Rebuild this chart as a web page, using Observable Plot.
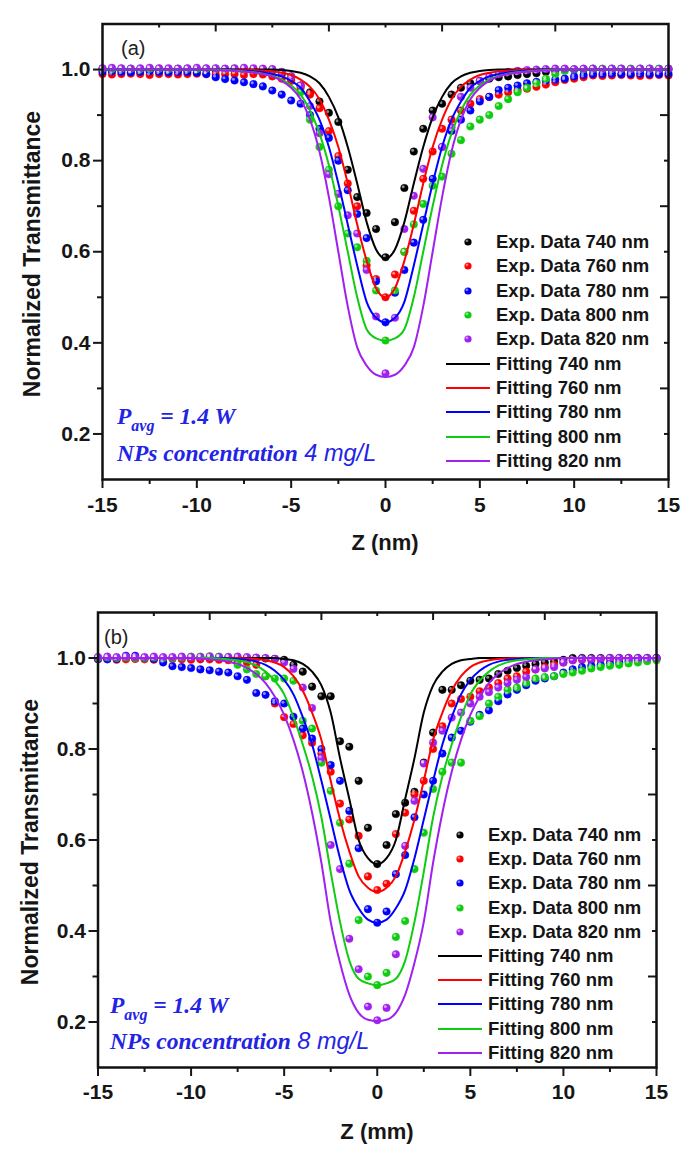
<!DOCTYPE html>
<html><head><meta charset="utf-8">
<script src="https://cdn.jsdelivr.net/npm/d3@7"></script>
<script src="https://cdn.jsdelivr.net/npm/@observablehq/plot@0.6"></script>
<style>
html,body{margin:0;padding:0;background:#fff;}
#root{position:relative;width:693px;height:1155px;overflow:hidden;font-family:"Liberation Sans",Arial,sans-serif;}
.abs{position:absolute;white-space:nowrap;}
.panel{position:absolute;left:0;}
.lg{position:absolute;white-space:nowrap;font-weight:bold;font-size:18.5px;line-height:24px;color:#141414;}
.ann{position:absolute;white-space:nowrap;color:#2323e6;line-height:1;}
.serif{font-family:"Liberation Serif","Times New Roman",serif;font-weight:bold;font-style:italic;}
.sansi{font-family:"Liberation Sans",Arial,sans-serif;font-style:italic;}
</style></head>
<body><div id="root"></div>
<script>
// ---------- data ----------
const zGrid = [-15,-14.5,-14,-13.5,-13,-12.5,-12,-11.5,-11,-10.5,-10,-9.5,-9,-8.5,-8,-7.5,-7,-6.5,-6,-5.5,-5,-4.5,-4,-3.5,-3,-2.5,-2,-1.5,-1,-0.5,0,0.5,1,1.5,2,2.5,3,3.5,4,4.5,5,5.5,6,6.5,7,7.5,8,8.5,9,9.5,10,10.5,11,11.5,12,12.5,13,13.5,14,14.5,15];
const wavelengths = ["740 nm","760 nm","780 nm","800 nm","820 nm"];
const seriesColors = ["#000000","#ff0000","#0000ff","#10cc10","#a020f0"];
const xMajorTicks = [-15,-10,-5,0,5,10,15];
const xMinorTicks = [-12.5,-7.5,-2.5,2.5,7.5,12.5];
const xTopLong = [-9,-3,3,9];
const xTopShort = [-12,-6,0,6,12];
const yMajorTicks = [0.2,0.4,0.6,0.8,1.0];
const yMinorTicks = [0.3,0.5,0.7,0.9];
const yRightLong = [0.3,0.5,0.7,0.9];
const yRightShort = [0.2,0.4,0.6,0.8];

// Panel (a) experimental data
const expA740 = [1,0.999,1,1,0.999,1,1,1,0.999,1,1,1,0.999,1,1,0.999,1,1,0.998,
 0.99,0.98,0.965,0.95,0.93,0.905,0.885,0.78,0.72,0.685,0.65,
 0.588,
 0.665,0.74,0.82,0.87,0.91,0.925,0.945,0.96,0.97,0.975,0.98,0.983,0.985,0.988,0.99,0.992,0.995,0.997,
 1,1,1,1,1,1,1,1,1,1,1,1];
const expA760 = [0.99,0.989,0.99,0.991,0.99,0.988,0.99,0.99,0.989,0.99,0.991,0.99,0.989,0.99,0.99,0.988,0.99,0.989,
 0.985,0.98,0.975,0.96,0.945,0.915,0.865,0.81,0.75,0.70,0.57,0.54,
 0.50,
 0.55,0.60,0.69,0.76,0.82,0.87,0.89,0.91,0.925,0.935,0.94,0.945,0.95,0.955,0.958,0.962,0.967,0.972,0.977,0.98,0.983,
 0.987,0.986,0.987,0.988,0.987,0.986,0.987,0.988,0.987];
const expA780 = [0.995,0.996,0.995,0.994,0.995,0.996,0.995,0.994,0.995,0.995,0.993,0.99,
 0.983,0.979,0.976,0.972,0.968,0.963,0.954,0.945,0.932,0.925,0.90,0.87,0.85,0.80,0.735,0.683,0.63,0.535,
 0.445,
 0.51,0.56,0.62,0.67,0.76,0.83,0.865,0.89,0.91,0.93,0.94,0.955,0.96,0.965,0.97,0.973,0.976,0.978,0.98,0.985,0.988,
 0.99,0.99,0.991,0.99,0.99,0.991,0.99,0.99,0.991];
const expA800 = [1.002,1.001,1.002,1.002,1.001,1.002,1.002,1.001,1.002,1.002,1.001,1.002,1.002,1.001,1.002,1.002,1.001,1.0,1.0,
 0.995,0.985,0.95,0.89,0.83,0.78,0.70,0.64,0.61,0.58,0.515,
 0.405,
 0.515,0.60,0.66,0.705,0.745,0.765,0.815,0.845,0.875,0.89,0.90,0.92,0.935,0.95,0.96,0.97,0.98,0.99,
 0.997,1,1.001,1.002,1.002,1.002,1.002,1.002,1.002,1.002,1.002,1.002];
const expA820 = [1.003,1.004,1.003,1.002,1.003,1.004,1.003,1.003,1.002,1.003,1.004,1.003,1.003,1.002,1.003,1.004,1.003,1.002,1.001,
 0.995,0.985,0.965,0.92,0.86,0.77,0.727,0.68,0.64,0.56,0.458,
 0.333,
 0.455,0.65,0.723,0.782,0.895,0.83,0.873,0.94,0.96,0.975,0.985,0.99,0.995,0.997,
 0.999,1,1.001,1.002,1.002,1.001,1.002,1.002,1.001,1.002,1.002,1.001,1.002,1.002,1.001,1.002];

// Panel (a) fitting curves
const fitA740 = [1,1,1,1,1,1,1,1,1,1,1,1,1,1,1,1,1,1,1,
 0.999,0.997,0.993,0.985,0.97,0.94,0.895,0.83,0.75,0.665,0.605,
 0.585,
 0.605,0.665,0.75,0.83,0.895,0.94,0.97,0.985,0.993,0.997,0.999,
 1,1,1,1,1,1,1,1,1,1,1,1,1,1,1,1,1,1,1];
const fitA760 = [1,1,1,1,1,1,1,1,1,1,1,1,1,1,1,1,
 0.999,0.998,0.996,0.993,0.988,0.978,0.962,0.935,0.89,0.83,0.75,0.66,0.58,0.52,
 0.50,
 0.52,0.58,0.66,0.75,0.83,0.89,0.935,0.962,0.978,0.988,0.993,0.996,0.998,0.999,
 1,1,1,1,1,1,1,1,1,1,1,1,1,1,1,1];
const fitA780 = [1,1,1,1,1,1,1,1,1,1,1,1,1,1,
 0.999,0.998,0.996,0.994,0.99,0.985,0.975,0.96,0.93,0.89,0.83,0.75,0.66,0.57,0.49,0.455,
 0.445,
 0.455,0.49,0.57,0.66,0.75,0.83,0.89,0.93,0.96,0.975,0.985,0.99,0.994,0.996,0.998,0.999,
 1,1,1,1,1,1,1,1,1,1,1,1,1,1];
const fitA800 = [1,1,1,1,1,1,1,1,1,1,1,1,1,
 0.999,0.998,0.996,0.994,0.991,0.986,0.978,0.965,0.945,0.91,0.86,0.79,0.70,0.60,0.50,0.43,0.41,
 0.405,
 0.41,0.43,0.50,0.60,0.70,0.79,0.86,0.91,0.945,0.965,0.978,0.986,0.991,0.994,0.996,0.998,0.999,
 1,1,1,1,1,1,1,1,1,1,1,1,1];
const fitA820 = [1,1,1,1,1,1,1,1,1,1,1,1,
 0.999,0.998,0.997,0.995,0.993,0.99,0.985,0.975,0.96,0.935,0.89,0.82,0.72,0.60,0.48,0.39,0.35,0.33,
 0.325,
 0.33,0.35,0.39,0.48,0.60,0.72,0.82,0.89,0.935,0.96,0.975,0.985,0.99,0.993,0.995,0.997,0.998,0.999,
 1,1,1,1,1,1,1,1,1,1,1,1];

// Panel (b) experimental data
const expB740 = [1,0.999,1,1,0.999,1,1,0.999,1,1,1,0.999,1,1,0.999,1,1,1,0.999,0.998,0.996,
 0.985,0.97,0.937,0.916,0.916,0.817,0.805,0.73,0.627,
 0.547,
 0.589,0.657,0.682,0.706,0.77,0.836,0.93,0.93,0.94,0.95,0.952,0.955,0.965,0.972,0.978,0.983,0.987,0.99,0.993,0.996,
 1,1,1,1,1,1,1,1,1,1];
const expB760 = [0.997,0.998,0.996,0.997,0.998,0.997,0.996,0.997,0.998,0.997,0.996,0.997,0.997,0.996,0.995,0.993,
 0.99,0.985,0.96,0.90,0.87,0.855,0.83,0.814,0.79,0.75,0.68,0.645,0.609,0.52,
 0.49,
 0.504,0.613,0.66,0.70,0.73,0.80,0.85,0.90,0.91,0.915,0.927,0.935,0.945,0.955,0.96,0.97,0.975,0.98,0.985,0.99,
 0.995,0.996,0.995,0.997,0.996,0.997,0.998,0.997,0.998,0.998];
const expB780 = [0.998,0.997,0.998,1.005,1.005,1.0,0.998,0.99,0.982,0.98,0.978,0.975,0.973,0.97,0.968,0.96,0.952,0.923,0.919,0.905,0.90,0.871,0.845,0.823,0.80,0.765,0.73,0.664,0.582,0.448,
 0.418,
 0.443,0.525,0.567,0.65,0.70,0.73,0.79,0.825,0.84,0.86,0.875,0.885,0.905,0.92,0.93,0.94,0.95,0.955,0.96,0.968,0.975,0.98,0.983,0.985,0.988,0.99,0.993,0.995,0.998,1.0];
const expB800 = [1,1.001,1,1.001,1,1,1.001,1,1,1.001,
 1.003,1.003,1.004,1.003,1.002,
 0.985,0.975,0.965,0.96,0.955,0.955,0.95,0.862,0.845,0.77,0.708,0.638,0.548,0.424,0.30,
 0.281,
 0.308,0.387,0.422,0.536,0.616,0.712,0.75,0.77,0.77,0.862,0.872,0.90,0.915,0.93,0.935,0.945,0.955,0.958,0.96,0.965,0.968,0.972,0.977,0.98,0.983,0.985,0.988,0.99,0.993,0.995];
const expB820 = [1.002,1.003,1.002,1.003,1.002,1.002,1.003,1.002,1.002,1.003,1.002,1.002,1.003,1.002,1.002,1.003,1.002,1.001,1.0,0.998,
 0.99,0.976,0.935,0.89,0.78,0.589,0.536,0.383,0.316,0.234,
 0.204,
 0.231,0.349,0.587,0.686,0.768,0.814,0.84,0.869,0.88,0.90,0.915,0.925,0.935,0.945,0.952,0.958,0.975,0.977,0.98,
 0.99,0.995,0.998,0.998,0.999,1,1,1,1,1,1];

// Panel (b) fitting curves
const fitB740 = [1,1,1,1,1,1,1,1,1,1,1,1,1,1,1,1,1,1,1,1,
 0.998,0.995,0.987,0.97,0.94,0.88,0.78,0.69,0.60,0.56,
 0.547,
 0.56,0.60,0.69,0.78,0.88,0.94,0.97,0.987,0.995,0.998,
 1,1,1,1,1,1,1,1,1,1,1,1,1,1,1,1,1,1,1,1];
const fitB760 = [1,1,1,1,1,1,1,1,1,1,1,1,1,1,1,1,
 0.999,0.998,0.995,0.99,0.98,0.96,0.928,0.88,0.82,0.73,0.645,0.575,0.52,0.495,
 0.486,
 0.495,0.52,0.575,0.645,0.73,0.82,0.88,0.928,0.96,0.98,0.99,0.995,0.998,0.999,
 1,1,1,1,1,1,1,1,1,1,1,1,1,1,1,1];
const fitB780 = [1,1,1,1,1,1,1,1,1,1,1,1,1,1,
 0.999,0.998,0.996,0.992,0.985,0.972,0.952,0.92,0.87,0.81,0.73,0.645,0.56,0.49,0.45,0.425,
 0.418,
 0.425,0.45,0.49,0.56,0.645,0.73,0.81,0.87,0.92,0.952,0.972,0.985,0.992,0.996,0.998,0.999,
 1,1,1,1,1,1,1,1,1,1,1,1,1,1];
const fitB800 = [1,1,1,1,1,1,1,1,1,1,1,1,1,
 0.999,0.997,0.995,0.991,0.983,0.97,0.95,0.92,0.87,0.81,0.74,0.65,0.53,0.42,0.335,0.295,0.285,
 0.281,
 0.285,0.295,0.335,0.42,0.53,0.65,0.74,0.81,0.87,0.92,0.95,0.97,0.983,0.991,0.995,0.997,0.999,
 1,1,1,1,1,1,1,1,1,1,1,1,1];
const fitB820 = [1,1,1,1,1,1,1,1,1,1,1,
 0.999,0.997,0.995,0.992,0.987,0.978,0.965,0.945,0.915,0.875,0.82,0.75,0.66,0.55,0.42,0.33,0.26,0.22,0.205,
 0.202,
 0.205,0.22,0.26,0.33,0.42,0.55,0.66,0.75,0.82,0.875,0.915,0.945,0.965,0.978,0.987,0.992,0.995,0.997,0.999,
 1,1,1,1,1,1,1,1,1,1,1];

// ---------- build ----------
const root = document.getElementById("root");
function toRows(arrays) {
  const out = [];
  arrays.forEach((arr, s) => arr.forEach((t, i) => out.push({z: zGrid[i], t, s})));
  return out;
}

function makePanel({exp, fit, top, height, mt, mb, ml, mr, pad}) {
  const plotW = 693 - ml - mr, plotH = height - mt - mb;
  const expRows = toRows(exp), fitRows = toRows(fit);
  const chart = Plot.plot({
    width: 693, height,
    marginTop: mt, marginBottom: mb, marginLeft: ml, marginRight: mr,
    style: {fontFamily: "'Liberation Sans', Arial, sans-serif", fontSize: "21px", fontWeight: "bold", color: "#161616", background: "transparent", overflow: "visible"},
    x: {domain: [-15, 15], label: null},
    y: {domain: [0.1, 1.1], label: null},
    color: {type: "ordinal", domain: [0,1,2,3,4], range: seriesColors},
    marks: [
      Plot.dot(expRows, {x: "z", y: "t", r: 3.8, fill: "s", stroke: "s", strokeWidth: 0.4}),
      Plot.dot(expRows, {x: "z", y: "t", r: 1.5, fill: "white", fillOpacity: 0.55, dx: -1.2, dy: -1.3}),
      Plot.line(fitRows, {x: "z", y: "t", z: "s", stroke: "s", strokeWidth: 2, curve: "monotone-x"}),
      Plot.axisX({ticks: xMajorTicks, tickSize: 9, tickPadding: pad, strokeWidth: 2, fontSize: 21, fontWeight: "bold", tickFormat: d => String(d), label: null}),
      Plot.axisX({ticks: xMinorTicks, tickSize: 5, strokeWidth: 2, tickFormat: () => "", label: null}),
      Plot.axisY({ticks: yMajorTicks, tickSize: 9, tickPadding: 3, strokeWidth: 2, fontSize: 21, fontWeight: "bold", tickFormat: d => d.toFixed(1), label: null}),
      Plot.axisY({ticks: yMinorTicks, tickSize: 5, strokeWidth: 2, tickFormat: () => "", label: null}),
      Plot.tickX(xTopLong, {x: d => d, insetBottom: plotH - 8, strokeWidth: 2}),
      Plot.tickX(xTopShort, {x: d => d, insetBottom: plotH - 4, strokeWidth: 2}),
      Plot.tickY(yRightLong, {y: d => d, insetLeft: plotW - 8, strokeWidth: 2}),
      Plot.tickY(yRightShort, {y: d => d, insetLeft: plotW - 4, strokeWidth: 2}),
      Plot.frame({stroke: "#111", strokeWidth: 2.5})
    ]
  });
  const wrap = document.createElement("div");
  wrap.className = "panel";
  wrap.style.top = top + "px";
  wrap.appendChild(chart);
  root.appendChild(wrap);
}

function addText(html, cls, left, top, style) {
  const d = document.createElement("div");
  d.className = cls;
  d.innerHTML = html;
  d.style.left = left + "px";
  d.style.top = top + "px";
  Object.assign(d.style, style || {});
  root.appendChild(d);
  return d;
}

function centered(text, cx, cy, fs, rotate) {
  const d = document.createElement("div");
  d.className = "abs";
  d.style.left = cx + "px";
  d.style.top = cy + "px";
  d.style.width = "0px"; d.style.height = "0px";
  const s = document.createElement("div");
  s.textContent = text;
  Object.assign(s.style, {position: "absolute", left: "0", top: "0", fontWeight: "bold", fontSize: fs + "px", lineHeight: fs + "px", color: "#161616",
    transform: "translate(-50%,-50%)" + (rotate ? " rotate(-90deg)" : ""), whiteSpace: "nowrap"});
  d.appendChild(s);
  root.appendChild(d);
}

const legendTexts = [...wavelengths.map(w => "Exp. Data " + w), ...wavelengths.map(w => "Fitting " + w)];
function legend(swX, y0, dy) {
  const ns = "http://www.w3.org/2000/svg";
  legendTexts.forEach((txt, j) => {
    const k = j % 5, isDot = j < 5;
    const yc = y0 + j * dy;
    const svg = document.createElementNS(ns, "svg");
    svg.setAttribute("width", 44); svg.setAttribute("height", 24);
    Object.assign(svg.style, {position: "absolute", left: swX + "px", top: (yc - 12) + "px", overflow: "visible"});
    if (isDot) {
      const c = document.createElementNS(ns, "circle");
      c.setAttribute("cx", 22); c.setAttribute("cy", 12); c.setAttribute("r", 3.6); c.setAttribute("fill", seriesColors[k]);
      svg.appendChild(c);
      const h = document.createElementNS(ns, "circle");
      h.setAttribute("cx", 20.9); h.setAttribute("cy", 10.8); h.setAttribute("r", 1.4); h.setAttribute("fill", "white"); h.setAttribute("fill-opacity", 0.5);
      svg.appendChild(h);
    } else {
      const l = document.createElementNS(ns, "line");
      l.setAttribute("x1", 0); l.setAttribute("x2", 44); l.setAttribute("y1", 12); l.setAttribute("y2", 12);
      l.setAttribute("stroke", seriesColors[k]); l.setAttribute("stroke-width", 2);
      svg.appendChild(l);
    }
    root.appendChild(svg);
    addText(txt, "lg", swX + 50, yc - 12);
  });
}

function annotation(left, base1, base2, conc) {
  addText('<span class="serif">P<sub style="font-size:16px;vertical-align:-7px;">avg</sub> = 1.4 W</span>', "ann", left, base1 - 19.5, {fontSize: "23.5px"});
  addText('<span class="serif">NPs concentration</span><span class="sansi"> ' + conc + '</span>', "ann", left, base2 - 19.5, {fontSize: "23.5px"});
}

// Panel (a)
makePanel({exp: [expA740, expA760, expA780, expA800, expA820], fit: [fitA740, fitA760, fitA780, fitA800, fitA820],
  top: 0, height: 560, mt: 23.5, mb: 81, ml: 102, mr: 25, pad: 9});
// Panel (b)
makePanel({exp: [expB740, expB760, expB780, expB800, expB820], fit: [fitB740, fitB760, fitB780, fitB800, fitB820],
  top: 580, height: 575, mt: 32, mb: 88, ml: 97.5, mr: 37, pad: 8});

// panel letters
addText("(a)", "abs", 121, 38, {fontSize: "20px", lineHeight: "20px", color: "#222"});
addText("(b)", "abs", 104, 627, {fontSize: "20px", lineHeight: "20px", color: "#222"});

// axis titles
centered("Normalized Transmittance", 32, 254, 23, true);
centered("Z (nm)", 385, 543, 22, false);
centered("Normalized Transmittance", 30, 842, 23, true);
centered("Z (mm)", 377, 1132, 22, false);

// legends
legend(446, 242, 24.35);
legend(438, 835, 24.2);

// annotations
annotation(117, 424, 461, "4 mg/L");
annotation(110, 1013, 1049, "8 mg/L");
</script>
</body></html>
